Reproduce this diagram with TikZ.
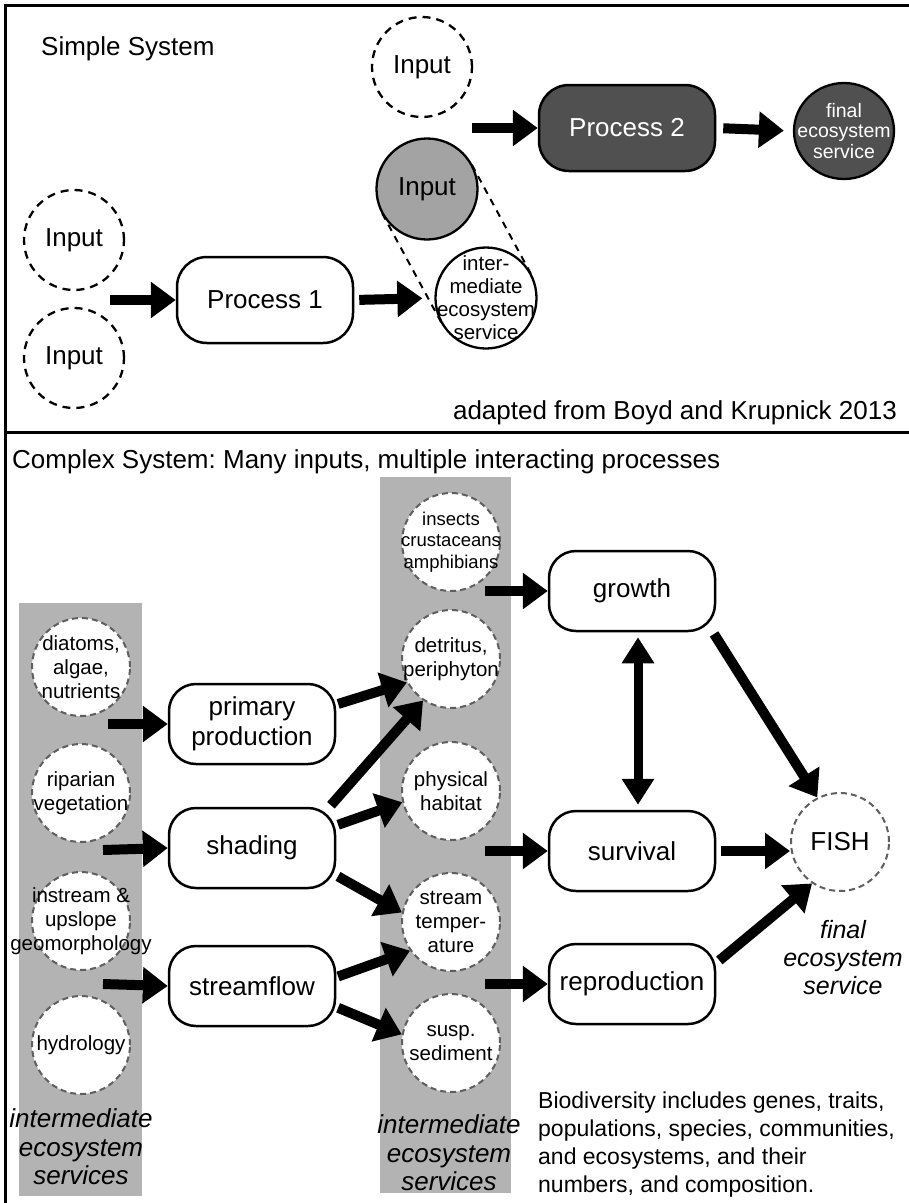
\documentclass[tikz,border=0pt]{standalone}
\usepackage{fontspec}
\setmainfont{Liberation Sans}
\usetikzlibrary{arrows.meta,calc,shapes.geometric}
\definecolor{colgray}{HTML}{B3B3B3}
\definecolor{darkfill}{HTML}{505050}
\definecolor{midfill}{HTML}{A3A3A3}
\definecolor{dashgray}{HTML}{5F5F5F}
\frenchspacing
\begin{document}
\begin{tikzpicture}[x=1pt,y=-1pt,
  big/.style={font=\fontsize{26}{30}\selectfont},
  proc/.style={draw=black, line width=2.5pt, rounded corners=27pt, minimum width=166pt, minimum height=80pt, align=center, font=\fontsize{26}{30}\selectfont, fill=white, inner sep=0pt},
  tproc/.style={proc, minimum width=176pt, minimum height=86pt, rounded corners=30pt},
  inputc/.style={circle, draw=black, dash pattern=on 8pt off 6pt, line width=2.3pt, minimum size=100pt, inner sep=0pt, font=\fontsize{26}{30}\selectfont},
  svc/.style={circle, draw=dashgray, dash pattern=on 6pt off 4pt, line width=2pt, fill=white, minimum size=98pt, inner sep=0pt},
  ctxt/.style={align=center, inner sep=0pt, font=\fontsize{20.5}{24}\selectfont},
  ba/.style={line width=10pt, -{Triangle[length=25pt,width=35pt]}},
  dba/.style={line width=9pt, {Triangle[length=26pt,width=31pt]}-{Triangle[length=26pt,width=31pt]}},
  ital/.style={align=center, font=\fontsize{26}{28.5}\selectfont\itshape, inner sep=0pt},
]
\useasboundingbox (0,0) rectangle (909,1203);
\fill[white] (0,0) rectangle (909,1203);
% frame
\draw[line width=3pt] (909,5) -- (5,5) -- (5,1203);
\draw[line width=3pt] (5,432) -- (909,432);

% ---------- simple system ----------
\node[big, anchor=west, inner sep=0pt] (simple) at (41,49) {Simple System};
\node[inputc] (in0) at (422,67) {Input};
\node[tproc, fill=darkfill, text=white] (p2) at (627,128) {Process 2};
\node[ellipse, draw=black, line width=2.3pt, fill=darkfill, minimum width=100pt, minimum height=96pt, inner sep=0pt] (fin) at (844,131) {};
\node[ctxt, text=white, font=\fontsize{19.5}{20.5}\selectfont] (fin-t) at (fin) {final\\ecosystem\\service};

\coordinate (gc) at (427,189);
\coordinate (ic) at (486,298);
\draw[dash pattern=on 7pt off 6pt, line width=2pt] ($(gc)!51pt!90:(ic)$) -- ($(ic)!51pt!-90:(gc)$);
\draw[dash pattern=on 7pt off 6pt, line width=2pt] ($(gc)!51pt!-90:(ic)$) -- ($(ic)!51pt!90:(gc)$);
\node[circle, draw=black, line width=2.3pt, fill=midfill, minimum size=101pt, inner sep=0pt, big] (gin) at (gc) {Input};
\node[circle, draw=black, line width=2.3pt, fill=white, minimum size=101pt, inner sep=0pt] (int) at (ic) {};
\node[ctxt, font=\fontsize{20.5}{23}\selectfont] (int-t) at (int) {inter-\\mediate\\ecosystem\\service};

\node[inputc] (in1) at (74,240) {Input};
\node[inputc] (in2) at (74,358) {Input};
\node[tproc] (p1) at (265,300) {Process 1};
\coordinate (p1in) at (110,300);
\draw[ba] (p1in) -- (p1.west);
\draw[ba, shorten <=5pt, shorten >=12pt] (p1.east) -- (int.west);
\coordinate (p2in) at (472,128);
\draw[ba] (p2in) -- (p2.west);
\draw[ba, shorten <=7pt, shorten >=9pt] (p2.east) -- (fin.west);
\node[big, anchor=east, inner sep=0pt] (adapt) at (897,413) {adapted from Boyd and Krupnick 2013};

% ---------- complex system ----------
\node[big, anchor=west, inner sep=0pt] (cplx) at (12,462) {Complex System: Many inputs, multiple interacting processes};
\fill[colgray] (19,603) rectangle (142,1196);
\fill[colgray] (380,477) rectangle (511,1193);

\node[svc] (dia) at (81,667) {};
\node[ctxt] (dia-t) at (dia) {diatoms,\\algae,\\nutrients};
\node[svc] (rip) at (81,793) {};
\node[ctxt] (rip-t) at (rip) {riparian\\vegetation};
\node[svc] (ins) at (81,921) {};
\node[ctxt] (ins-t) at (ins) {instream \&\\upslope\\geomorphology};
\node[svc] (hyd) at (81,1045) {};
\node[ctxt] (hyd-t) at (hyd) {hydrology};

\node[svc] (bug) at (451,542) {};
\node[ctxt, font=\fontsize{18.5}{21.5}\selectfont] (bug-t) at (bug) {insects\\crustaceans\\amphibians};
\node[svc] (det) at (451,659) {};
\node[ctxt] (det-t) at (det) {detritus,\\periphyton};
\node[svc] (phy) at (451,791) {};
\node[ctxt] (phy-t) at (phy) {physical\\habitat};
\node[svc] (stt) at (451,922) {};
\node[ctxt] (stt-t) at (stt) {stream\\temper-\\ature};
\node[svc] (sus) at (451,1043) {};
\node[ctxt] (sus-t) at (sus) {susp.\\sediment};

\node[proc] (pp) at (252,724) {primary\\production};
\node[proc] (sh) at (252,848) {shading};
\node[proc] (sf) at (252,986) {streamflow};
\node[proc] (gr) at (632,591) {growth};
\node[proc] (sv) at (632,851) {survival};
\node[proc] (rp) at (632,984) {reproduction};
\node[svc, font=\fontsize{26}{30}\selectfont] (fish) at (840,842) {FISH};

\node[ital] (lab1) at (81,1147) {intermediate\\ecosystem\\services};
\node[ital] (lab2) at (449,1153) {intermediate\\ecosystem\\services};
\node[ital, font=\fontsize{25}{28}\selectfont\itshape] (lab3) at (843,958) {final\\ecosystem\\service};
\node[anchor=west, align=left, inner sep=0pt, font=\fontsize{23}{28.3}\selectfont] (bio) at (538,1144.5) {Biodiversity includes genes, traits,\\populations, species, communities,\\and ecosystems, and their\\numbers, and composition.};

% arrows
\coordinate (a1) at (108,724);
\coordinate (a2) at (103,850);
\coordinate (a3) at (103,984);
\draw[ba] (a1) -- (pp.west);
\draw[ba] (a2) -- (sh.west);
\draw[ba] (a3) -- (sf.west);
\draw[ba, shorten <=2pt] (pp.13) -- (det.208);
\draw[ba, shorten <=2pt] (sh.28) -- (det.236);
\draw[ba, shorten <=2pt] (sh.15) -- (phy.193);
\draw[ba, shorten <=2pt] (sh.-18) -- (stt.169);
\draw[ba, shorten <=2pt] (sf.6) -- (stt.215);
\draw[ba, shorten <=2pt] (sf.-14) -- (sus.170);
\coordinate (b1) at (485,591);
\coordinate (b2) at (485,851);
\coordinate (b3) at (485,984);
\draw[ba] (b1) -- (gr.west);
\draw[ba] (b2) -- (sv.west);
\draw[ba] (b3) -- (rp.west);
\draw[dba, shorten <=5pt, shorten >=5pt] ([xshift=6pt]gr.south) -- ([xshift=6pt]sv.north);
\draw[ba, shorten <=2pt] (gr.-27) -- (fish.117);
\draw[ba, shorten <=5pt] (sv.east) -- (fish.west |- sv.east);
\draw[ba, shorten <=4pt] (rp.14) -- (fish.236);
\end{tikzpicture}
\end{document}
